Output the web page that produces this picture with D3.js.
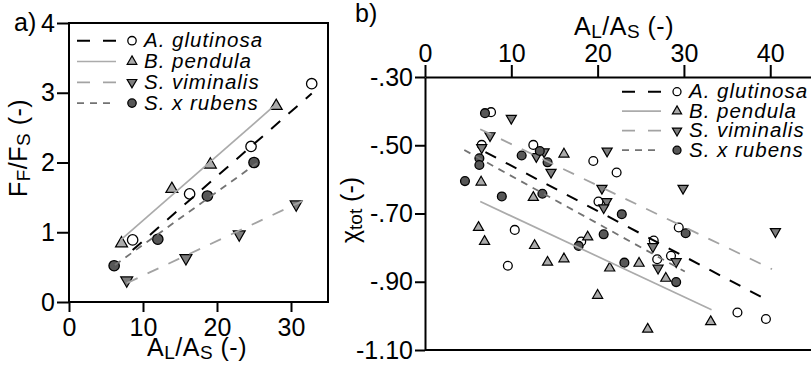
<!DOCTYPE html>
<html><head><meta charset="utf-8">
<script src="https://cdn.jsdelivr.net/npm/d3@7"></script>
<style>
body{margin:0;background:#fff}
svg{display:block;font-family:"Liberation Sans",Arial,Helvetica,sans-serif}
</style></head><body>
<svg id="chart" width="811" height="367"></svg>
<script>
// ---------------- DATA ----------------
const species = ["A. glutinosa","B. pendula","S. viminalis","S. x rubens"];

// Panel a : F_F/F_S vs A_L/A_S
const aX_glutinosa = [8.6, 16.3, 24.6, 32.8];
const aY_glutinosa = [0.89, 1.55, 2.23, 3.13];
const aX_pendula   = [7.1, 13.9, 19.1, 28.0];
const aY_pendula   = [0.84, 1.62, 1.97, 2.81];
const aX_viminalis = [7.8, 15.8, 23.0, 30.7];
const aY_viminalis = [0.31, 0.63, 0.97, 1.40];
const aX_rubens    = [6.1, 12.0, 18.7, 25.0];
const aY_rubens    = [0.52, 0.90, 1.52, 2.00];
// regression line end points (panel a)
const aFitX_glutinosa = [8.6, 32.8],  aFitY_glutinosa = [0.745, 2.99];
const aFitX_pendula   = [7.0, 27.6],  aFitY_pendula   = [0.89, 2.80];
const aFitX_viminalis = [7.8, 31.6],  aFitY_viminalis = [0.27, 1.45];
const aFitX_rubens    = [6.2, 25.4],  aFitY_rubens    = [0.53, 1.99];

// Panel b : chi_tot vs A_L/A_S
const bX_glutinosa = [7.65, 6.57, 12.55, 10.4, 9.6, 19.5, 22.2, 20.1, 18.1, 29.4, 26.5, 26.9, 28.5, 36.2, 39.5];
const bY_glutinosa = [-0.403, -0.499, -0.499, -0.748, -0.853, -0.546, -0.580, -0.665, -0.782, -0.741, -0.779, -0.834, -0.824, -0.990, -1.009];
const bX_pendula   = [16.1, 6.5, 12.55, 6.2, 6.9, 12.7, 14.2, 16.1, 18.85, 21.4, 24.8, 27.9, 20.0, 33.1, 25.8];
const bY_pendula   = [-0.526, -0.608, -0.653, -0.741, -0.782, -0.794, -0.843, -0.833, -0.769, -0.860, -0.846, -0.890, -0.940, -1.017, -1.039];
const bX_viminalis = [10.0, 7.53, 6.57, 13.8, 12.9, 14.6, 21.1, 20.5, 29.9, 21.05, 20.7, 40.6, 26.4, 29.1, 27.0];
const bY_viminalis = [-0.421, -0.472, -0.507, -0.519, -0.533, -0.579, -0.517, -0.626, -0.626, -0.665, -0.683, -0.753, -0.797, -0.841, -0.860];
const bX_rubens    = [6.95, 13.3, 11.2, 6.3, 6.3, 14.2, 4.63, 8.9, 13.6, 22.8, 30.2, 20.7, 17.8, 23.1, 29.1];
const bY_rubens    = [-0.406, -0.517, -0.530, -0.538, -0.558, -0.550, -0.605, -0.650, -0.642, -0.702, -0.758, -0.761, -0.795, -0.844, -0.901];
// regression line end points (panel b)
const bFitX_glutinosa = [7.0, 39.6],  bFitY_glutinosa = [-0.520, -0.953];
const bFitX_pendula   = [6.4, 33.2],  bFitY_pendula   = [-0.665, -0.982];
const bFitX_viminalis = [6.4, 40.2],  bFitY_viminalis = [-0.453, -0.863];
const bFitX_rubens    = [4.55, 30.1], bFitY_rubens    = [-0.514, -0.870];

// tick values and labels
const aXTicks = [0, 10, 20, 30];
const aYTicks = [0, 1, 2, 3, 4];
const bXTicks = [0, 10, 20, 30, 40];
const bYTicks = [-0.30, -0.50, -0.70, -0.90, -1.10];
const bYTickLabels = ["-.30", "-.50", "-.70", "-.90", "-1.10"];

// ---------------- STYLE ----------------
const sty = {
  "A. glutinosa": {sym:"circle", fill:"#ffffff", line:"#000000", dash:"12,11", lw:2},
  "B. pendula":   {sym:"up",     fill:"#ababab", line:"#ababab", dash:null,    lw:1.7},
  "S. viminalis": {sym:"down",   fill:"#7d7d7d", line:"#a3a3a3", dash:"12,11", lw:1.8},
  "S. x rubens":  {sym:"circle", fill:"#575757", line:"#737373", dash:"7,6",   lw:1.8}
};
const TICKFS = 25, LEGFS = 20.5;

const svg = d3.select("#chart");

function marker(g, sp, cx, cy, r){
  const s = sty[sp];
  if (s.sym === "circle"){
    g.append("circle").attr("cx",cx).attr("cy",cy).attr("r",r)
      .attr("fill",s.fill).attr("stroke","#000").attr("stroke-width",1.3);
  } else {
    const area = Math.sqrt(3)/4*Math.pow(r*2.3,2);
    g.append("path").attr("d", d3.symbol(d3.symbolTriangle, area)())
      .attr("transform", `translate(${cx},${cy})` + (s.sym==="down" ? " rotate(180)" : ""))
      .attr("fill",s.fill).attr("stroke","#000").attr("stroke-width",1.2);
  }
}
function fitLine(g, sp, xs, ys, X, Y){
  const s = sty[sp];
  const ln = g.append("line")
    .attr("x1",X(xs[0])).attr("y1",Y(ys[0])).attr("x2",X(xs[1])).attr("y2",Y(ys[1]))
    .attr("stroke",s.line).attr("stroke-width",s.lw);
  if (s.dash) ln.attr("stroke-dasharray",s.dash);
}
function subText(t, parts, subdy){
  let down = false;
  parts.forEach(p=>{
    const ts = t.append("tspan").text(p[0]);
    if (p[1]) { ts.attr("font-size",(TICKFS*0.76)+"px"); if(!down){ts.attr("dy",subdy); down=true;} }
    else if (down){ ts.attr("dy",-subdy); down=false; }
  });
}
function legend(g, x0, y0, dy, msize){
  species.forEach((sp,i)=>{
    const y = y0 + i*dy;
    const s = sty[sp];
    const ln = g.append("line").attr("x1",x0).attr("x2",x0+39).attr("y1",y).attr("y2",y)
      .attr("stroke",s.line).attr("stroke-width",s.lw);
    if (s.dash) ln.attr("stroke-dasharray", sp==="S. x rubens" ? "7,6" : "13,13");
    marker(g, sp, x0+55, y, msize);
    g.append("text").attr("x",x0+67).attr("y",y+6.5)
      .attr("font-size",LEGFS+"px").attr("font-style","italic")
      .style("letter-spacing","1px")
      .attr("fill","#000").text(sp);
  });
}
const A = {
  "A. glutinosa":[aX_glutinosa,aY_glutinosa,aFitX_glutinosa,aFitY_glutinosa],
  "B. pendula":[aX_pendula,aY_pendula,aFitX_pendula,aFitY_pendula],
  "S. viminalis":[aX_viminalis,aY_viminalis,aFitX_viminalis,aFitY_viminalis],
  "S. x rubens":[aX_rubens,aY_rubens,aFitX_rubens,aFitY_rubens]
};
const B = {
  "A. glutinosa":[bX_glutinosa,bY_glutinosa,bFitX_glutinosa,bFitY_glutinosa],
  "B. pendula":[bX_pendula,bY_pendula,bFitX_pendula,bFitY_pendula],
  "S. viminalis":[bX_viminalis,bY_viminalis,bFitX_viminalis,bFitY_viminalis],
  "S. x rubens":[bX_rubens,bY_rubens,bFitX_rubens,bFitY_rubens]
};

// ---------------- PANEL A ----------------
const xa = d3.scaleLinear().domain([0,35]).range([69,328]);
const ya = d3.scaleLinear().domain([0,4]).range([302,23]);
const ga = svg.append("g");

const axA_x = ga.append("g").attr("transform","translate(0,302)")
  .call(d3.axisBottom(xa).tickValues(aXTicks).tickFormat(d3.format("d")).tickSize(10).tickPadding(6).tickSizeOuter(0));
const axA_y = ga.append("g").attr("transform","translate(69,0)")
  .call(d3.axisLeft(ya).tickValues(aYTicks).tickFormat(d3.format("d")).tickSize(12).tickPadding(2).tickSizeOuter(0));
[axA_x, axA_y].forEach(ax=>{
  ax.select(".domain").remove();
  ax.selectAll(".tick line").attr("stroke","#000").attr("stroke-width",2);
  ax.selectAll("text").attr("font-size",TICKFS+"px").attr("fill","#000").attr("font-family",null);
});
ga.append("rect").attr("x",xa(0)).attr("y",ya(4)).attr("width",xa(35)-xa(0)).attr("height",ya(0)-ya(4))
  .attr("fill","none").attr("stroke","#000").attr("stroke-width",2);

species.forEach(sp=>{
  const [xs,ys] = A[sp];
  xs.forEach((x,i)=> marker(ga, sp, xa(x), ya(ys[i]), 5.2));
});
species.forEach(sp=>{
  const [, , fx, fy] = A[sp];
  fitLine(ga, sp, fx, fy, xa, ya);
});
legend(ga, 77, 40.7, 20.8, 4.2);

// labels
ga.append("text").attr("x",14).attr("y",31).attr("font-size",TICKFS+"px").text("a)");
const tAx = ga.append("text").attr("x",197).attr("y",356).attr("text-anchor","middle")
  .attr("font-size",TICKFS+"px").style("letter-spacing","0.5px");
subText(tAx, [["A",0],["L",1],["/A",0],["S",1],[" (-)",0]], 3);
const tAy = ga.append("text").attr("transform","translate(27,148) rotate(-90)").attr("text-anchor","middle")
  .attr("font-size",TICKFS+"px").style("letter-spacing","0.5px");
subText(tAy, [["F",0],["F",1],["/F",0],["S",1],[" (-)",0]], 3);

// ---------------- PANEL B ----------------
const xb = d3.scaleLinear().domain([0,45]).range([425,813.4]);
const yb = d3.scaleLinear().domain([-1.10,-0.30]).range([350,77]);
const gb = svg.append("g");

const axB_x = gb.append("g").attr("transform","translate(0,77)")
  .call(d3.axisTop(xb).tickValues(bXTicks).tickFormat(d3.format("d")).tickSize(12).tickPadding(3).tickSizeOuter(0));
const axB_y = gb.append("g").attr("transform","translate(425,0)")
  .call(d3.axisLeft(yb).tickValues(bYTicks).tickFormat((d,i)=>bYTickLabels[i]).tickSize(10).tickPadding(2).tickSizeOuter(0));
[axB_x, axB_y].forEach(ax=>{
  ax.select(".domain").attr("stroke","#000").attr("stroke-width",2);
  ax.selectAll(".tick line").attr("stroke","#000").attr("stroke-width",2);
  ax.selectAll("text").attr("font-size",TICKFS+"px").attr("fill","#000").attr("font-family",null);
});
gb.append("line").attr("x1",xb(0)).attr("x2",xb(45)).attr("y1",yb(-1.10)).attr("y2",yb(-1.10))
  .attr("stroke","#000").attr("stroke-width",2);

species.forEach(sp=>{
  const [xs,ys] = B[sp];
  xs.forEach((x,i)=> marker(gb, sp, xb(x), yb(ys[i]), 4.4));
});
species.forEach(sp=>{
  const [, , fx, fy] = B[sp];
  fitLine(gb, sp, fx, fy, xb, yb);
});
legend(gb, 622, 91.7, 19.5, 4.0);

gb.append("text").attr("x",355).attr("y",22).attr("font-size",TICKFS+"px").text("b)");
const tBx = gb.append("text").attr("x",624).attr("y",35).attr("text-anchor","middle")
  .attr("font-size",TICKFS+"px").style("letter-spacing","0.5px");
subText(tBx, [["A",0],["L",1],["/A",0],["S",1],[" (-)",0]], 3);
const tBy = gb.append("text").attr("transform","translate(359,210) rotate(-90)").attr("text-anchor","middle")
  .attr("font-size",TICKFS+"px");
subText(tBy, [["χ",0],["tot",1],[" (-)",0]], 3);
</script>
</body></html>
